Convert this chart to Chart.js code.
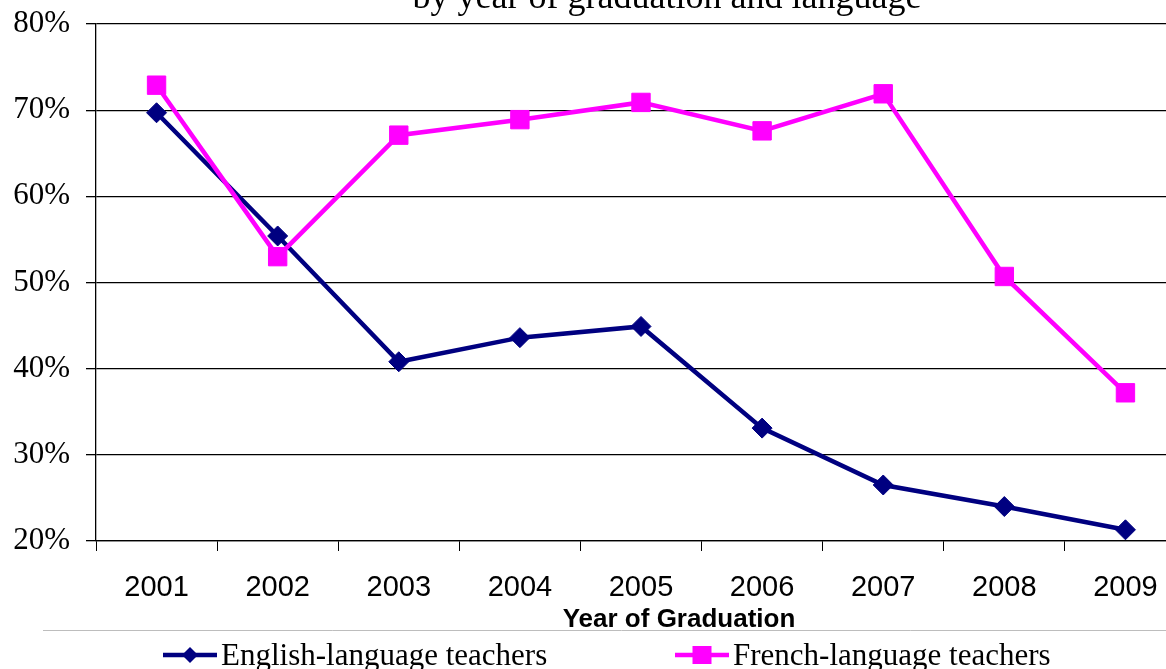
<!DOCTYPE html>
<html><head><meta charset="utf-8">
<script src="https://cdn.jsdelivr.net/npm/chart.js@4"></script>
<style>
html,body{margin:0;padding:0;background:#fff;overflow:hidden;width:1166px;height:669px;}
#wrap{position:absolute;left:0;top:0;width:1200px;height:669px;}
</style></head><body>
<div id="wrap"><canvas id="c"></canvas></div>
<script>
const titleText = 'by year of graduation and language';
const xAxisTitle = 'Year of Graduation';
const years = ['2001','2002','2003','2004','2005','2006','2007','2008','2009'];
const englishLabel = 'English-language teachers';
const frenchLabel = 'French-language teachers';
const englishValues = [69.7, 55.4, 40.8, 43.6, 44.9, 33.1, 26.5, 24.0, 21.3];
const frenchValues  = [72.9, 53.0, 67.1, 68.9, 70.9, 67.6, 71.9, 50.7, 37.2];
const yMin = 20, yMax = 80, yStep = 10;

const NAVY = '#000080', MAGENTA = '#FF00FF';

const decor = {
  id: 'decor',
  afterDraw(chart) {
    const ctx = chart.ctx;
    ctx.save();
    ctx.fillStyle = '#000';
    ctx.textBaseline = 'alphabetic';
    ctx.textAlign = 'center';
    ctx.font = '36px "Liberation Serif"';
    ctx.fillText(titleText, 667, 8);
    ctx.font = 'bold 26px "Liberation Sans"';
    ctx.fillText(xAxisTitle, 679, 627);
    ctx.strokeStyle = '#bdbdbd'; ctx.lineWidth = 1;
    ctx.beginPath(); ctx.moveTo(43, 630.5); ctx.lineTo(chart.width, 630.5); ctx.stroke();
    const items = [{x: 163, i: 0}, {x: 675, i: 1}];
    const ly = 655;
    items.forEach(it => {
      const ds = chart.data.datasets[it.i];
      ctx.strokeStyle = ds.borderColor; ctx.lineWidth = 4.5;
      ctx.beginPath(); ctx.moveTo(it.x, ly); ctx.lineTo(it.x + 54, ly); ctx.stroke();
      ctx.fillStyle = ds.borderColor;
      const cx = it.x + 27;
      ctx.beginPath();
      if (ds.pointStyle === 'rectRot') {
        const r = 8;
        ctx.moveTo(cx - r, ly); ctx.lineTo(cx, ly - r); ctx.lineTo(cx + r, ly); ctx.lineTo(cx, ly + r);
        ctx.closePath();
      } else {
        ctx.rect(cx - 9.5, ly - 9, 19, 18);
      }
      ctx.fill();
      ctx.fillStyle = '#000';
      ctx.textAlign = 'left';
      ctx.font = '31px "Liberation Serif"';
      ctx.fillText(ds.label, it.x + 58, ly + 10);
    });
    ctx.restore();
  }
};

new Chart(document.getElementById('c'), {
  type: 'line',
  data: {
    labels: years,
    datasets: [
      { label: englishLabel, data: englishValues, borderColor: NAVY, backgroundColor: NAVY,
        borderWidth: 4.5, pointStyle: 'rectRot', pointRadius: 10, pointBorderWidth: 1,
        pointBackgroundColor: NAVY, pointBorderColor: NAVY, tension: 0, order: 1 },
      { label: frenchLabel, data: frenchValues, borderColor: MAGENTA, backgroundColor: MAGENTA,
        borderWidth: 4.5, pointStyle: 'rect', pointRadius: 13, pointBorderWidth: 1,
        pointBackgroundColor: MAGENTA, pointBorderColor: MAGENTA, tension: 0, order: 0 }
    ]
  },
  options: {
    responsive: true, maintainAspectRatio: false, animation: false,
    layout: { padding: { left: 0, right: 10, top: 24, bottom: 0 } },
    plugins: { legend: { display: false }, tooltip: { enabled: false }, title: { display: false } },
    scales: {
      x: {
        offset: true,
        grid: { offset: true, drawOnChartArea: false, drawTicks: true, tickLength: 10, color: '#000', lineWidth: 1 },
        border: { display: true, color: '#000', width: 1.3 },
        ticks: { color: '#000', padding: 20, font: { family: '"Liberation Sans"', size: 29 }, maxRotation: 0, autoSkip: false },
        afterFit: s => { s.height = 128; s.paddingLeft = 0; s.paddingRight = 0; }
      },
      y: {
        min: yMin, max: yMax,
        grid: { color: '#000', lineWidth: 1.3, tickLength: 10 },
        border: { display: true, color: '#000', width: 1.3 },
        ticks: { stepSize: yStep, color: '#000', padding: 16, font: { family: '"Liberation Serif"', size: 31 },
                 callback: v => v + '%' },
        afterFit: s => { s.width = 96; s.paddingTop = 0; s.paddingBottom = 0; }
      }
    }
  },
  plugins: [decor]
});
</script>
</body></html>
